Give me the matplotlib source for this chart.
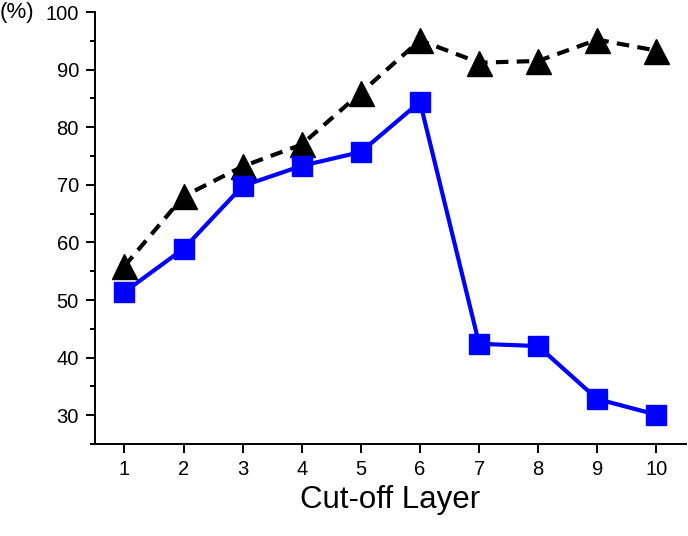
import matplotlib.pyplot as plt
from matplotlib.ticker import MultipleLocator

plt.rcParams["font.family"] = ["Liberation Sans", "DejaVu Sans"]

layers = [1, 2, 3, 4, 5, 6, 7, 8, 9, 10]
triangle_vals = [55.9, 68.0, 73.2, 77.0, 86.0, 95.1, 91.2, 91.5, 95.2, 93.3]
square_vals = [51.4, 58.9, 69.8, 73.3, 75.7, 84.4, 42.4, 42.0, 32.8, 30.1]

fig = plt.figure(figsize=(6.88, 5.36), dpi=100)
ax = fig.add_axes([0.138, 0.1716, 0.859, 0.806])

ax.plot(layers, triangle_vals, color="black", linestyle=(0, (3, 2)), linewidth=3,
        marker="^", markersize=18, zorder=3)
ax.plot(layers, square_vals, color="#0000ff", linestyle="-", linewidth=3,
        marker="s", markersize=14, zorder=4)

ax.set_xlim(0.5, 10.5)
ax.set_ylim(25, 100)
ax.set_xticks(layers)
ax.yaxis.set_major_locator(MultipleLocator(10))
ax.yaxis.set_minor_locator(MultipleLocator(5))
ax.set_yticks(range(30, 101, 10))

for side in ("top", "right"):
    ax.spines[side].set_visible(False)
for side in ("left", "bottom"):
    ax.spines[side].set_linewidth(1.4)

ax.tick_params(axis="both", which="major", direction="out", length=6.5, width=1.4,
               labelsize=14.5, pad=5)
ax.tick_params(axis="y", which="minor", direction="out", length=3.5, width=1.4)

ax.set_xlabel("Cut-off Layer", fontsize=22.5, labelpad=4)
ax.text(-0.161, 1.0, "(%)", transform=ax.transAxes, fontsize=16,
        ha="left", va="center")

fig.savefig("out.png", dpi=100)
